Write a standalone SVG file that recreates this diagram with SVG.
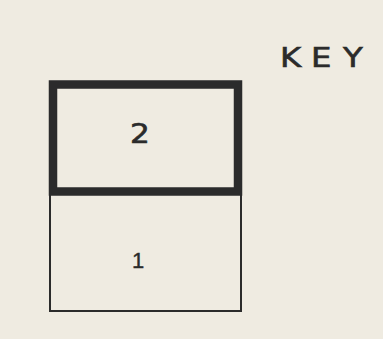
<svg xmlns="http://www.w3.org/2000/svg" width="383" height="339" viewBox="0 0 383 339">
<style>
.t{font-family:"DejaVu Sans","Liberation Sans",Arial,sans-serif;fill:#2b2b2b;stroke:#2b2b2b;stroke-width:0.6}
.box{fill:none;stroke:#2b2b2b}
</style>
<rect width="383" height="339" fill="#efebe1"/>
<g id="key-label"><text class="t" transform="translate(280,67) scale(1.2,1)" x="0 25.8 52.5" y="0" font-size="27">KEY</text></g>
<g id="node-1"><rect class="box" x="50" y="192" width="191" height="119" stroke-width="2"/><text class="t" x="138" y="268" font-size="22" text-anchor="middle" style="font-family:'Liberation Sans',Arial,sans-serif;stroke-width:0.4">1</text></g>
<g id="node-2"><rect class="box" x="53" y="84.5" width="185" height="107" stroke-width="8.5"/><text class="t" transform="translate(140,143) scale(1.2,1)" text-anchor="middle" font-size="26">2</text></g>
<g id="connectors"/>
</svg>
